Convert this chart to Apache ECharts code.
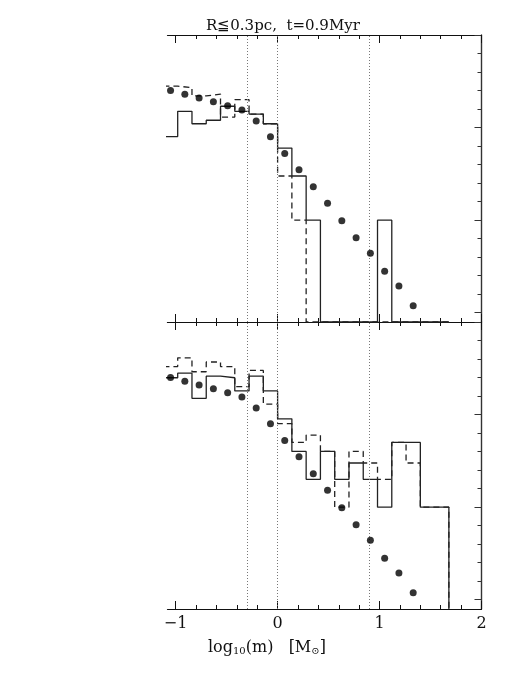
<!DOCTYPE html>
<html>
<head>
<meta charset="utf-8">
<script src="https://cdn.jsdelivr.net/npm/echarts@6/dist/echarts.min.js"></script>
<style>
html, body { margin: 0; padding: 0; background: #fff; }
#chart { width: 509px; height: 678px; }
</style>
</head>
<body>
<div id="chart"></div>
<script>
// bin edges in log10(m)
var binEdges = [-1.12, -0.98, -0.84, -0.70, -0.56, -0.42, -0.28, -0.14, 0, 0.14, 0.28,
                0.42, 0.56, 0.70, 0.84, 0.98, 1.12, 1.26, 1.40, 1.54, 1.68];

// star counts per bin (0 = empty bin)
var topSolid    = [8, 15, 11, 12, 17, 15, 14, 11, 6, 3, 1, 0, 0, 0, 0, 1, 0, 0, 0, 0];
var topDashed   = [28, 27, 22, 23, 13, 20, 14, 11, 3, 1, 0, 0, 0, 0, 0, 0, 0, 0, 0, 0];
var lowerSolid  = [25, 28, 15, 26, 25, 18, 26, 18, 9, 4, 2, 4, 2, 3, 2, 1, 5, 5, 1, 1];
var lowerDashed = [33, 41, 29, 37, 33, 20, 30, 13, 8, 5, 6, 4, 1, 4, 3, 2, 5, 3, 1, 1];

// model points (log10 N at bin centres)
var modelX = [-1.05, -0.91, -0.77, -0.63, -0.49, -0.35, -0.21, -0.07, 0.07, 0.21,
              0.35, 0.49, 0.63, 0.77, 0.91, 1.05, 1.19, 1.33];
var modelY = [1.40, 1.36, 1.32, 1.28, 1.235, 1.19, 1.07, 0.90, 0.72, 0.545,
              0.36, 0.183, -0.006, -0.19, -0.357, -0.552, -0.71, -0.925];

var massLimits = [-0.3, 0, 0.9];
var xTicks = [-1, 0, 1, 2];
var yTicks = [-1, 0, 1, 2];

var X_MIN = -1.08, X_MAX = 2;
var Y_MIN = -1.1, Y_MAX = 2;
var SERIF = '"DejaVu Serif", "Liberation Serif", serif';
var INK = '#111';

function stepData(counts) {
    var pts = [];
    for (var i = 0; i < counts.length; i++) {
        var v = counts[i] > 0 ? Math.log10(counts[i]) : Y_MIN;
        pts.push([binEdges[i], v], [binEdges[i + 1], v]);
    }
    pts.push([binEdges[counts.length], Y_MIN]);
    return pts;
}

function makeX(grid, pos, labels) {
    return {
        type: 'value', gridIndex: grid, position: pos,
        min: X_MIN, max: X_MAX, splitNumber: 3,
        axisLine: { show: true, onZero: false, lineStyle: { color: INK, width: 1.2 } },
        axisTick: { show: true, inside: true, length: 8, customValues: xTicks, lineStyle: { color: INK, width: 1 } },
        minorTick: { show: true, splitNumber: 5, length: 4, lineStyle: { color: INK, width: 1 } },
        splitLine: { show: false },
        axisLabel: {
            show: labels, customValues: xTicks, margin: 7,
            fontFamily: SERIF, fontSize: 16, color: INK,
            formatter: function (v) {
                if (Math.abs(v - Math.round(v)) > 1e-6) return '';
                return String(v).replace('-', '\u2212');
            }
        }
    };
}

function makeY(grid) {
    return {
        type: 'value', gridIndex: grid, position: 'right',
        min: Y_MIN, max: Y_MAX, splitNumber: 3,
        axisLine: { show: true, onZero: false, lineStyle: { color: '#333', width: 1.4 } },
        axisTick: { show: true, inside: true, length: 7, customValues: yTicks, lineStyle: { color: '#333' } },
        minorTick: { show: true, splitNumber: 5, length: 4, lineStyle: { color: '#333' } },
        splitLine: { show: false },
        axisLabel: { show: false }
    };
}

function limitLines() {
    return {
        silent: true, symbol: 'none', label: { show: false },
        lineStyle: { type: [1, 2], color: '#777', width: 1 },
        data: massLimits.map(function (m) { return { xAxis: m }; })
    };
}

function panelSeries(xi, yi, solid, dashed) {
    return [
        {
            type: 'line', xAxisIndex: xi, yAxisIndex: yi, data: stepData(solid),
            showSymbol: false, clip: true,
            lineStyle: { color: '#222', width: 1.3 }
        },
        {
            type: 'line', xAxisIndex: xi, yAxisIndex: yi, data: stepData(dashed),
            showSymbol: false, clip: true,
            lineStyle: { color: '#222', width: 1.3, type: [6, 4] }
        },
        {
            type: 'scatter', xAxisIndex: xi, yAxisIndex: yi,
            data: modelX.map(function (x, i) { return [x, modelY[i]]; }),
            symbolSize: 7, itemStyle: { color: '#000' }, z: 5,
            markLine: limitLines()
        }
    ];
}

var chart = echarts.init(document.getElementById('chart'));

var option = {
    animation: false,
    backgroundColor: '#fff',
    grid: [
        { left: 167.5, top: 35, width: 314, height: 287 },
        { left: 167.5, top: 322, width: 314, height: 287 }
    ],
    xAxis: [
        makeX(0, 'bottom', false),
        makeX(0, 'top', false),
        makeX(1, 'bottom', true),
        makeX(1, 'top', false)
    ],
    yAxis: [makeY(0), makeY(1)],
    graphic: [
        {
            type: 'text', x: 206, y: 26.5,
            style: { text: 'R\u22660.3pc,  t=0.9Myr', font: '15px ' + SERIF, fill: INK, verticalAlign: 'middle' }
        },
        {
            type: 'text', x: 208, y: 656,
            style: {
                text: 'log{s|10}(m)   [M{s|\u2299}]',
                font: '16px ' + SERIF, fill: INK, verticalAlign: 'bottom',
                rich: {
                    s: { fontSize: 10, fontFamily: SERIF, fill: INK, lineHeight: 10, verticalAlign: 'bottom' }
                }
            }
        }
    ],
    series: panelSeries(0, 0, topSolid, topDashed).concat(panelSeries(2, 1, lowerSolid, lowerDashed))
};

chart.setOption(option);
window.addEventListener('resize', function () {
    chart.resize();
});
</script>
</body>
</html>
